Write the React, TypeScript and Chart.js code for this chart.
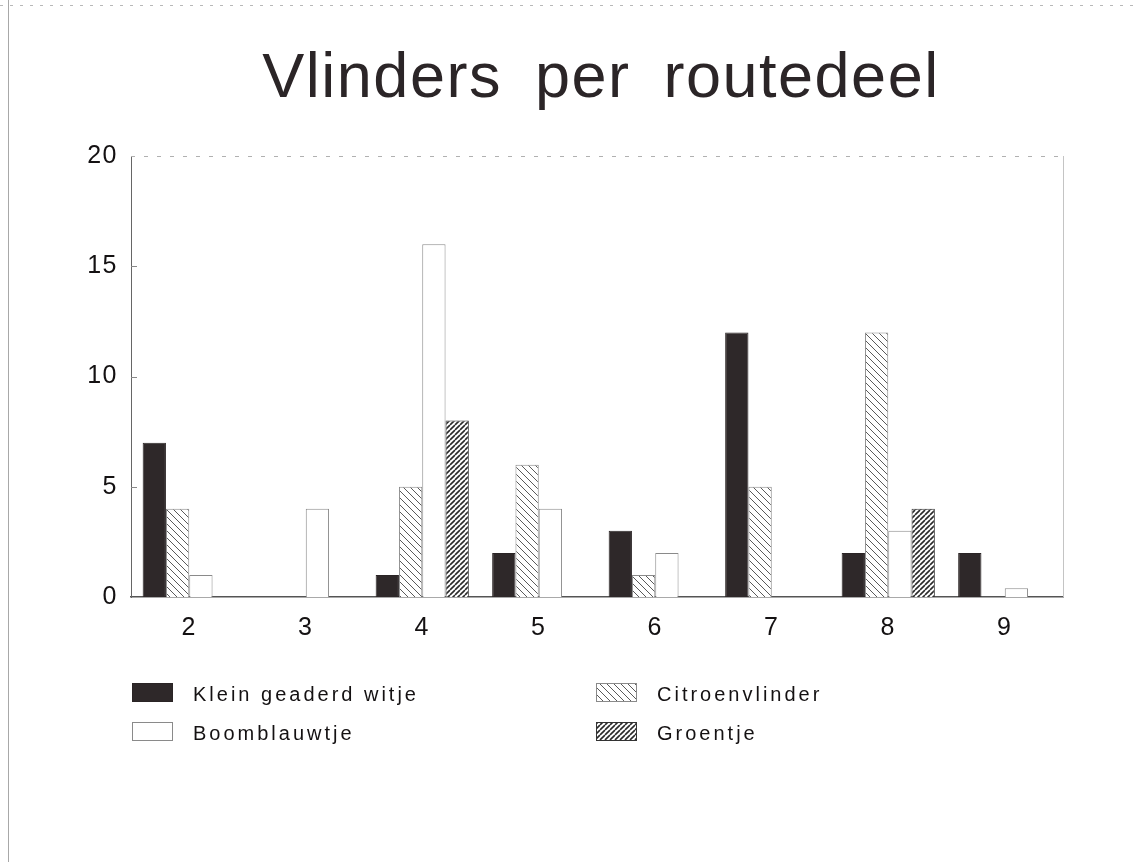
import React, { useEffect, useRef } from "react";
import { Chart, registerables } from "chart.js";

Chart.register(...registerables);

const TITLE = "Vlinders per routedeel";
const categories = ["2", "3", "4", "5", "6", "7", "8", "9"];
const seriesNames = ["Klein geaderd witje", "Citroenvlinder", "Boomblauwtje", "Groentje"];
const kleinGeaderdWitje = [7, 0, 1, 2, 3, 12, 2, 2];
const citroenvlinder = [4, 0, 5, 6, 1, 5, 12, 0];
const boomblauwtje = [1, 4, 16, 4, 2, 0, 3, 0.4];
const groentje = [0, 0, 8, 0, 0, 0, 4, 0];
const yTicks = [0, 5, 10, 15, 20];

const FONT = '"Liberation Sans", Arial, Helvetica, sans-serif';

function hatch(dir: "\\" | "/", s: number, lw: number, color: string, bg: string) {
  const c = document.createElement("canvas");
  c.width = s;
  c.height = s;
  const g = c.getContext("2d")!;
  g.fillStyle = bg;
  g.fillRect(0, 0, s, s);
  g.strokeStyle = color;
  g.lineWidth = lw;
  g.beginPath();
  for (let k = -1; k <= 1; k++) {
    if (dir === "\\") {
      g.moveTo(k * s, 0);
      g.lineTo(k * s + s, s);
    } else {
      g.moveTo(k * s, s);
      g.lineTo(k * s + s, 0);
    }
  }
  g.stroke();
  return g.createPattern(c, "repeat")!;
}

export default function App() {
  const ref = useRef<HTMLCanvasElement | null>(null);

  useEffect(() => {
    const canvas = ref.current!;
    const citroenFill = hatch("\\", 7, 1, "#5a5a5a", "#ffffff");
    const groenFill = hatch("/", 5, 1.6, "#2a2a2a", "#ffffff");

    const fills: any[] = ["#2e2829", citroenFill, "#ffffff", groenFill];
    const borders = ["#2a2425", "#8a8a8a", "#8a8a8a", "#333333"];
    const values = [kleinGeaderdWitje, citroenvlinder, boomblauwtje, groentje];

    const decor = {
      id: "decor",
      beforeDraw(chart: any) {
        const ctx = chart.ctx;
        ctx.save();
        ctx.fillStyle = "#ffffff";
        ctx.fillRect(0, 0, chart.width, chart.height);
        // page frame (scan edges)
        ctx.strokeStyle = "#a8a8a8";
        ctx.lineWidth = 1;
        ctx.beginPath();
        ctx.moveTo(8.5, 0);
        ctx.lineTo(8.5, chart.height);
        ctx.stroke();
        ctx.setLineDash([3, 7]);
        ctx.strokeStyle = "#b8b8b8";
        ctx.beginPath();
        ctx.moveTo(0, 5.5);
        ctx.lineTo(chart.width, 5.5);
        ctx.stroke();
        ctx.restore();
        (ctx as any).letterSpacing = "1.5px";
      },
      afterDraw(chart: any) {
        const ctx = chart.ctx;
        const a = chart.chartArea;
        const ys = chart.scales.y;
        ctx.save();
        // top dashed border and right border
        ctx.strokeStyle = "#b0b0b0";
        ctx.lineWidth = 1;
        ctx.setLineDash([4, 9]);
        ctx.beginPath();
        ctx.moveTo(a.left, a.top + 0.5);
        ctx.lineTo(a.right, a.top + 0.5);
        ctx.stroke();
        ctx.setLineDash([]);
        ctx.strokeStyle = "#c4c4c4";
        ctx.beginPath();
        ctx.moveTo(a.right + 0.5, a.top);
        ctx.lineTo(a.right + 0.5, a.bottom);
        ctx.stroke();
        // inner y tick marks
        ctx.strokeStyle = "#888";
        yTicks.forEach((v) => {
          if (v === 0 || v === 20) return;
          const y = Math.round(ys.getPixelForValue(v)) + 0.5;
          ctx.beginPath();
          ctx.moveTo(a.left, y);
          ctx.lineTo(a.left + 6, y);
          ctx.stroke();
        });

        // title
        ctx.fillStyle = "#2b2527";
        ctx.font = `63px ${FONT}`;
        (ctx as any).letterSpacing = "1.5px";
        (ctx as any).wordSpacing = "14px";
        ctx.textAlign = "center";
        ctx.textBaseline = "alphabetic";
        ctx.fillText(TITLE, (a.left + a.right) / 2 + 4, 97);
        (ctx as any).wordSpacing = "0px";

        // legend
        ctx.font = `20px ${FONT}`;
        (ctx as any).letterSpacing = "3px";
        ctx.textAlign = "left";
        const cols = [a.left + 1, a.left + 465];
        const rows = [a.bottom + 86, a.bottom + 125];
        const order = [0, 1, 2, 3];
        order.forEach((i, k) => {
          const x = cols[k % 2];
          const y = rows[Math.floor(k / 2)];
          ctx.fillStyle = fills[i];
          ctx.fillRect(x, y, 41, 19);
          ctx.strokeStyle = borders[i];
          ctx.lineWidth = 1;
          ctx.strokeRect(x + 0.5, y + 0.5, 40, 18);
          ctx.fillStyle = "#141112";
          ctx.fillText(chart.data.datasets[i].label, x + 61, y + 18);
        });
        ctx.restore();
      },
    };

    const chart = new Chart(canvas, {
      type: "bar",
      data: {
        labels: categories,
        datasets: seriesNames.map((name, i) => ({
          label: name,
          data: values[i],
          backgroundColor: fills[i],
          borderColor: borders[i],
          borderWidth: 1,
          borderSkipped: "start",
          categoryPercentage: 0.8,
          barPercentage: 1.0,
        })),
      },
      options: {
        responsive: false,
        animation: false,
        devicePixelRatio: 1,
        layout: { padding: { left: 81, top: 156, right: 75, bottom: 215 } },
        plugins: {
          legend: { display: false },
          title: { display: false },
          tooltip: { enabled: false },
        },
        scales: {
          x: {
            type: "category",
            grid: { display: false },
            border: { display: true, color: "#555", width: 1.5 },
            ticks: { color: "#141112", font: { size: 25, family: FONT }, padding: 8, maxRotation: 0 },
            afterFit: (s: any) => {
              s.height = 50;
            },
          },
          y: {
            min: 0,
            max: 20,
            grid: { display: false },
            border: { display: true, color: "#666", width: 1 },
            ticks: {
              stepSize: 5,
              color: "#141112",
              font: { size: 25, family: FONT },
              padding: 5,
            },
            afterFit: (s: any) => {
              s.width = 50;
            },
          },
        },
      },
      plugins: [decor],
    } as any);
    return () => chart.destroy();
  }, []);

  return (
    <div style={{ position: "fixed", left: 0, top: 0, width: 1138, height: 862, background: "#fff" }}>
      <canvas ref={ref} width={1138} height={862} style={{ display: "block" }} />
    </div>
  );
}
